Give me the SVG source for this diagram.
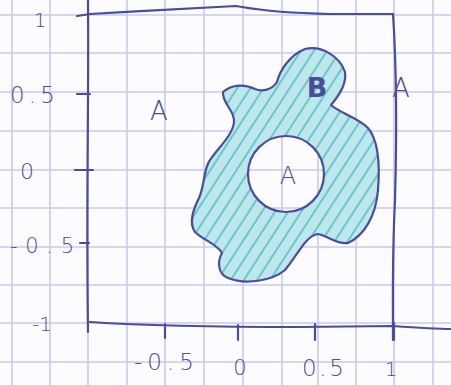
<svg xmlns="http://www.w3.org/2000/svg" width="451" height="385" viewBox="0 0 451 385">
<style>
.grid{stroke:#c8c9ef;stroke-width:1.6;fill:none}
.ink{stroke:#4a4c9c;stroke-width:2.2;fill:none;stroke-linecap:round;stroke-linejoin:round}
.lbl{font-family:"DejaVu Sans","Liberation Sans",sans-serif;fill:#4a4c9c;font-weight:300}
</style>
<defs>
<pattern id="hatch" width="11" height="11" patternUnits="userSpaceOnUse" patternTransform="rotate(33)">
<line x1="5" y1="0" x2="5" y2="11" stroke="#4fbcc6" stroke-width="1.5"/>
</pattern>
</defs>
<rect width="451" height="385" fill="#fcfcff"/>
<g id="grid" class="grid">
<path d="M12 0V385M50 0V385M88 0V385M127 0V385M165 0V385M204 0V385M243 0V385M282 0V385M318 0V385M356 0V385M394 0V385M433 0V385"/>
<path d="M0 15H451M0 53H451M0 92H451M0 131H451M0 170H451M0 208H451M0 247H451M0 285H451M0 323H451M0 362H451"/>
</g>
<g id="region-B">
<path fill-rule="evenodd" fill="#bde7ea" d="M223 92 C232 84 245 84 255 89 C262 92 272 90 277 82 C280 70 290 55 305 49 C322 45 340 57 345 72 C347 85 338 97 331 105 C340 113 358 118 368 128 C378 140 380 165 378 190 C376 215 365 235 348 243 C338 245 328 236 318 234 C305 236 298 255 285 270 C272 281 245 285 228 278 C218 274 217 262 222 253 C217 244 203 240 195 232 C188 222 194 208 199 198 C205 185 203 170 210 160 C218 148 233 135 234 122 C235 110 222 104 223 92 Z M248 174 a38 38 0 1 0 76 0 a38 38 0 1 0 -76 0 Z"/>
<path fill-rule="evenodd" fill="url(#hatch)" d="M223 92 C232 84 245 84 255 89 C262 92 272 90 277 82 C280 70 290 55 305 49 C322 45 340 57 345 72 C347 85 338 97 331 105 C340 113 358 118 368 128 C378 140 380 165 378 190 C376 215 365 235 348 243 C338 245 328 236 318 234 C305 236 298 255 285 270 C272 281 245 285 228 278 C218 274 217 262 222 253 C217 244 203 240 195 232 C188 222 194 208 199 198 C205 185 203 170 210 160 C218 148 233 135 234 122 C235 110 222 104 223 92 Z M248 174 a38 38 0 1 0 76 0 a38 38 0 1 0 -76 0 Z"/>
<path class="ink" d="M223 92 C232 84 245 84 255 89 C262 92 272 90 277 82 C280 70 290 55 305 49 C322 45 340 57 345 72 C347 85 338 97 331 105 C340 113 358 118 368 128 C378 140 380 165 378 190 C376 215 365 235 348 243 C338 245 328 236 318 234 C305 236 298 255 285 270 C272 281 245 285 228 278 C218 274 217 262 222 253 C217 244 203 240 195 232 C188 222 194 208 199 198 C205 185 203 170 210 160 C218 148 233 135 234 122 C235 110 222 104 223 92 Z"/>
</g>
<g id="circle-A">
<circle class="ink" cx="286" cy="174" r="38"/>
</g>
<g id="frame" class="ink">
<path d="M88 0 C89 100 86 200 88 332"/>
<path d="M77 16 L90 14 C140 11 200 8 236 6 L242 7 C265 11 285 13 330 14 L393 14"/>
<path d="M393 14 C396 60 397 130 395 200 C392 260 393 300 393 340"/>
<path d="M90 322 C150 326 250 327 300 327 L393 326 C420 328 440 329 451 329"/>
<path d="M77 94 H90 M75 170 H93 M80 243 H89"/>
<path d="M165 324 V338 M238 325 V340 M315 324 V340 M394 323 V340"/>
</g>
<g id="labels" class="lbl">
<text x="40" y="27" font-size="20" text-anchor="middle">1</text>
<text x="10" y="103" font-size="23" textLength="45" lengthAdjust="spacing">0.5</text>
<text x="27" y="179" font-size="22" text-anchor="middle">0</text>
<text x="10" y="253" font-size="21" textLength="64" lengthAdjust="spacing">-0.5</text>
<text x="42" y="331" font-size="20" text-anchor="middle">-1</text>
<text x="134" y="370" font-size="23" textLength="60" lengthAdjust="spacing">-0.5</text>
<text x="240" y="375" font-size="21" text-anchor="middle">0</text>
<text x="302" y="376" font-size="23" textLength="42" lengthAdjust="spacing">0.5</text>
<text x="391" y="376" font-size="20" text-anchor="middle">1</text>
<text x="159" y="120" font-size="26" text-anchor="middle">A</text>
<text x="288" y="184" font-size="24" text-anchor="middle">A</text>
<text x="317" y="97" font-size="27" text-anchor="middle" font-weight="bold">B</text>
<text x="401" y="97" font-size="26" text-anchor="middle">A</text>
</g>
</svg>
